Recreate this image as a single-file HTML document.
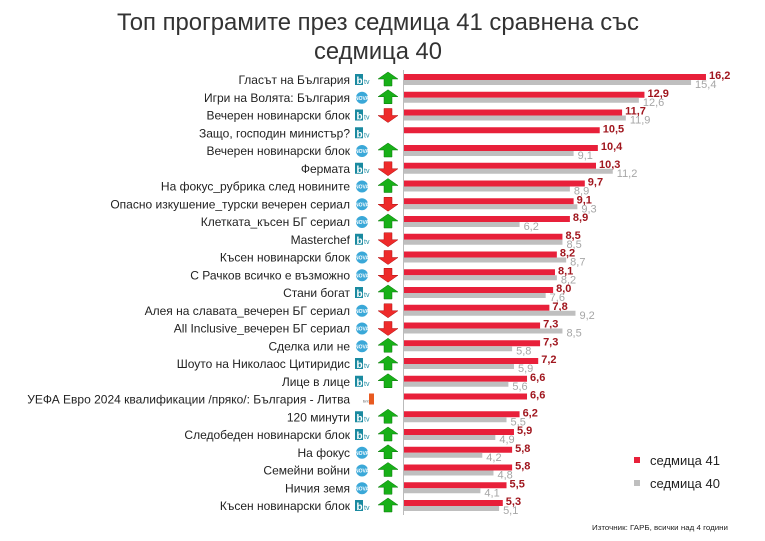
<!DOCTYPE html>
<html><head><meta charset="utf-8"><style>
html,body{margin:0;padding:0;background:#fff;}
svg{display:block;font-family:"Liberation Sans",sans-serif;}
</style></head><body>
<svg id="s" width="765" height="541" viewBox="0 0 765 541" xmlns="http://www.w3.org/2000/svg">
<text x="378" y="30" font-size="24" fill="#333" text-anchor="middle" textLength="522" lengthAdjust="spacingAndGlyphs">Топ програмите през седмица 41 сравнена със</text>
<text x="378" y="59" font-size="24" fill="#333" text-anchor="middle" textLength="128" lengthAdjust="spacingAndGlyphs">седмица 40</text>
<line x1="403.5" y1="70" x2="403.5" y2="515" stroke="#bbb" stroke-width="1"/>
<rect x="634" y="457" width="6" height="6" fill="#e8203a"/>
<text x="650" y="465" font-size="13" fill="#222">седмица 41</text>
<rect x="634" y="480" width="6" height="6" fill="#bfbfbf"/>
<text x="650" y="488" font-size="13" fill="#222">седмица 40</text>
<text x="592" y="530" font-size="7" fill="#222" textLength="136" lengthAdjust="spacingAndGlyphs">Източник: ГАРБ, всички над 4 години</text>
<g id="g"></g>
</svg>
<script>
var d=[
["Гласът на България","b","u",16.2,15.4],
["Игри на Волята: България","n","u",12.9,12.6],
["Вечерен новинарски блок","b","d",11.7,11.9],
["Защо, господин министър?","b","",10.5,null],
["Вечерен новинарски блок","n","u",10.4,9.1],
["Фермата","b","d",10.3,11.2],
["На фокус_рубрика след новините","n","u",9.7,8.9],
["Опасно изкушение_турски вечерен сериал","n","d",9.1,9.3],
["Клетката_късен БГ сериал","n","u",8.9,6.2],
["Masterchef","b","d",8.5,8.5],
["Късен новинарски блок","n","d",8.2,8.7],
["С Рачков всичко е възможно","n","d",8.1,8.2],
["Стани богат","b","u",8.0,7.6],
["Алея на славата_вечерен БГ сериал","n","d",7.8,9.2],
["All Inclusive_вечерен БГ сериал","n","d",7.3,8.5],
["Сделка или не","n","u",7.3,5.8],
["Шоуто на Николаос Цитиридис","b","u",7.2,5.9],
["Лице в лице","b","u",6.6,5.6],
["УЕФА Евро 2024 квалификации /пряко/: България - Литва","1","",6.6,null],
["120 минути","b","u",6.2,5.5],
["Следобеден новинарски блок","b","u",5.9,4.9],
["На фокус","n","u",5.8,4.2],
["Семейни войни","n","u",5.8,4.8],
["Ничия земя","n","u",5.5,4.1],
["Късен новинарски блок","b","u",5.3,5.1]];
var h="",X0=404,K=18.64;
function f(v){return v.toFixed(1).replace(".",",");}
d.forEach(function(r,i){
 var c=80+i*17.75;
 h+='<text x="350" y="'+(c+4)+'" font-size="12" fill="#222" text-anchor="end">'+r[0]+'</text>';
 if(r[1]=="b"){h+='<rect x="355" y="'+(c-6)+'" width="8" height="11" fill="#1a8aa0"/><text x="356.5" y="'+(c+4)+'" font-size="10" font-weight="bold" fill="#fff">b</text><text x="364" y="'+(c+4)+'" font-size="7" fill="#1a8aa0">tv</text>';}
 else if(r[1]=="n"){h+='<circle cx="362" cy="'+c+'" r="6" fill="#3aa8d8"/><text x="362" y="'+(c+2)+'" font-size="5" fill="#fff" text-anchor="middle" font-weight="bold">NOVA</text>';}
 else {h+='<text x="363" y="'+(c+3)+'" font-size="4" fill="#555">bnt</text><rect x="369" y="'+(c-6)+'" width="5" height="11" fill="#e85a20"/>';}
 if(r[2]=="u")h+='<polygon points="388,'+(c-8)+' 398,'+(c-1)+' 392,'+(c-1)+' 392,'+(c+6)+' 384,'+(c+6)+' 384,'+(c-1)+' 378,'+(c-1)+'" fill="#18b018" stroke="#0a7a0a" stroke-width="0.5"/>';
 if(r[2]=="d")h+='<polygon points="388,'+(c+7)+' 398,'+(c)+' 392,'+(c)+' 392,'+(c-7)+' 384,'+(c-7)+' 384,'+(c)+' 378,'+(c)+'" fill="#ee2a2a" stroke="#b01010" stroke-width="0.5"/>';
 var w1=r[3]*K;
 h+='<rect x="'+X0+'" y="'+(c-6)+'" width="'+w1+'" height="6" fill="#e8203a"/>';
 h+='<text x="'+(X0+w1+3)+'" y="'+(c-1)+'" font-size="11" font-weight="bold" fill="#a0161e">'+f(r[3])+'</text>';
 if(r[4]!=null){var w2=r[4]*K;
 h+='<rect x="'+X0+'" y="'+c+'" width="'+w2+'" height="5" fill="#bfbfbf"/>';
 h+='<text x="'+(X0+w2+4)+'" y="'+(c+8)+'" font-size="11" fill="#a6a6a6">'+f(r[4])+'</text>';}
});
document.getElementById("g").innerHTML=h;
</script>
</body></html>
